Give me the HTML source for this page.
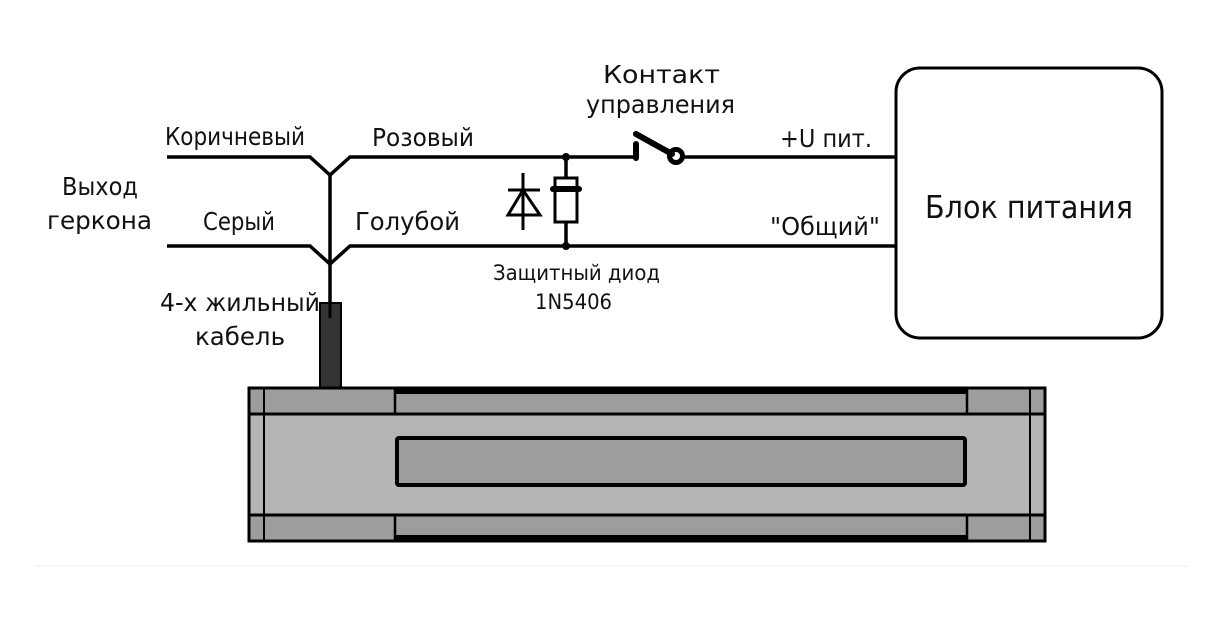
<!DOCTYPE html>
<html><head><meta charset="utf-8"><style>
html,body{margin:0;padding:0;background:#fff;}
svg{display:block}
text{font-family:"DejaVu Sans Condensed","DejaVu Sans","Liberation Sans",sans-serif;fill:#111;}
</style></head><body>
<svg width="1213" height="623" viewBox="0 0 1213 623" xmlns="http://www.w3.org/2000/svg">
<g stroke="#000" stroke-width="3.5" fill="none" stroke-linejoin="miter">
<polyline points="167,157 310,157 330,175 350,157 635,157"/>
<polyline points="167,246 310,246 330,264 350,246 896,246"/>
<line x1="330" y1="175" x2="330" y2="350"/>
<line x1="682" y1="157" x2="896" y2="157"/>
<line x1="566" y1="157" x2="566" y2="178"/>
<line x1="566" y1="222" x2="566" y2="246"/>
<rect x="555" y="178" width="22" height="44" stroke-width="3"/>
<line x1="553" y1="189" x2="579" y2="189" stroke-width="6" stroke-linecap="round"/>
<line x1="523" y1="173" x2="523" y2="230" stroke-width="3"/>
<line x1="508" y1="190" x2="540" y2="190" stroke-width="3"/>
<polygon points="523,190 508,215 540,215" stroke-width="3"/>
<line x1="636" y1="144" x2="636" y2="158" stroke-width="6" stroke-linecap="round"/>
<line x1="636" y1="134" x2="672" y2="154" stroke-width="6" stroke-linecap="round"/>
<circle cx="676" cy="156" r="6.5" stroke-width="5"/>
<rect x="896" y="68" width="266" height="270" rx="24" stroke-width="3"/>
</g>
<circle cx="566" cy="157" r="4"/><circle cx="566" cy="246" r="4"/>
<rect x="320" y="303" width="21" height="86" fill="#333" stroke="#000" stroke-width="2"/>
<line x1="330" y1="303" x2="330" y2="318" stroke="#000" stroke-width="3"/>
<rect x="249" y="388" width="796" height="153" fill="#b5b5b5" stroke="#000" stroke-width="3"/>
<rect x="249" y="388" width="796" height="26" fill="#9d9d9d" stroke="#000" stroke-width="3"/>
<rect x="249" y="515" width="796" height="26" fill="#9d9d9d" stroke="#000" stroke-width="3"/>
<line x1="395" y1="391" x2="967" y2="391" stroke="#000" stroke-width="6"/>
<line x1="395" y1="538" x2="967" y2="538" stroke="#000" stroke-width="6"/>
<line x1="395" y1="388" x2="395" y2="414" stroke="#000" stroke-width="2.5"/>
<line x1="967" y1="388" x2="967" y2="414" stroke="#000" stroke-width="2.5"/>
<line x1="395" y1="515" x2="395" y2="541" stroke="#000" stroke-width="2.5"/>
<line x1="967" y1="515" x2="967" y2="541" stroke="#000" stroke-width="2.5"/>
<line x1="264" y1="388" x2="264" y2="541" stroke="#000" stroke-width="2"/>
<line x1="1030" y1="388" x2="1030" y2="541" stroke="#000" stroke-width="2"/>
<rect x="397" y="438" width="568" height="47" rx="2" fill="#9d9d9d" stroke="#000" stroke-width="4"/>
<line x1="35" y1="566" x2="1188" y2="566" stroke="#eee" stroke-width="1"/>
<g font-size="25">
<text x="165" y="145" textLength="140" lengthAdjust="spacingAndGlyphs">Коричневый</text>
<text x="62" y="195" textLength="76" lengthAdjust="spacingAndGlyphs">Выход</text>
<text x="47" y="229" textLength="105" lengthAdjust="spacingAndGlyphs">геркона</text>
<text x="203" y="230" textLength="72" lengthAdjust="spacingAndGlyphs">Серый</text>
<text x="372" y="146" textLength="102" lengthAdjust="spacingAndGlyphs">Розовый</text>
<text x="355" y="230" textLength="105" lengthAdjust="spacingAndGlyphs">Голубой</text>
<text x="603" y="83" textLength="117" lengthAdjust="spacingAndGlyphs">Контакт</text>
<text x="586" y="113" textLength="149" lengthAdjust="spacingAndGlyphs">управления</text>
<text x="780" y="147" textLength="92" lengthAdjust="spacingAndGlyphs">+U пит.</text>
<text x="770" y="235" textLength="110" lengthAdjust="spacingAndGlyphs">"Общий"</text>
<text x="160" y="311" textLength="160" lengthAdjust="spacingAndGlyphs">4-х жильный</text>
<text x="195" y="345" textLength="90" lengthAdjust="spacingAndGlyphs">кабель</text>
</g>
<text x="925" y="218" font-size="31" textLength="208" lengthAdjust="spacingAndGlyphs">Блок питания</text>
<text x="493" y="280" font-size="21" textLength="167" lengthAdjust="spacingAndGlyphs">Защитный диод</text>
<text x="535" y="309" font-size="21" textLength="77" lengthAdjust="spacingAndGlyphs">1N5406</text>
</svg>
</body></html>
